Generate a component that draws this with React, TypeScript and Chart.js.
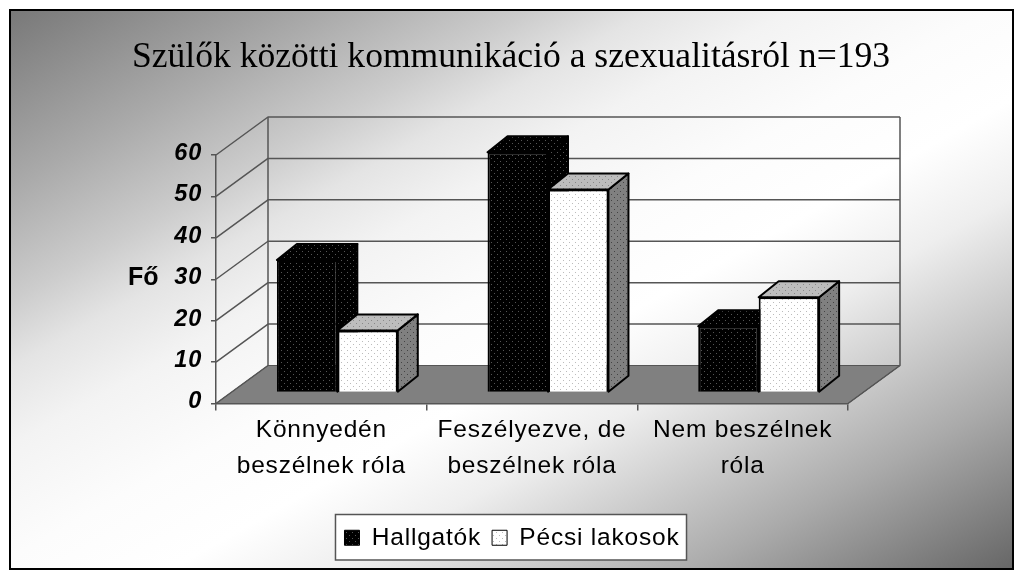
import { useEffect, useRef } from "react";
import { Chart, registerables, type Plugin } from "chart.js";

Chart.register(...registerables);

const TITLE = "Szülők közötti kommunikáció a szexualitásról n=193";
const AXIS_LABEL = "Fő";
const categories = [
  ["Könnyedén", "beszélnek róla"],
  ["Feszélyezve, de", "beszélnek róla"],
  ["Nem beszélnek", "róla"],
];
const hallgatok = [32, 58, 16];
const pecsi = [15, 49, 23];
const SERIES_NAMES = ["Hallgatók", "Pécsi lakosok"];

// 3d look of the old office chart
const WALL_DX = 52;
const WALL_DY = -38;
const BAR_SHIFT_X = 16;
const BAR_SHIFT_Y = -11;
const BAR_DX = 20;
const BAR_DY = -16;
const TRACKING = "0.8px";

function dots(bg: string, dot: string) {
  const c = document.createElement("canvas");
  c.width = 6;
  c.height = 6;
  const g = c.getContext("2d")!;
  g.fillStyle = bg;
  g.fillRect(0, 0, 6, 6);
  g.fillStyle = dot;
  g.fillRect(1, 1, 1, 1);
  g.fillRect(4, 4, 1, 1);
  return g.createPattern(c, "repeat")!;
}

function poly(ctx: CanvasRenderingContext2D, pts: number[][], fill: any, stroke?: string, lw = 1) {
  ctx.beginPath();
  pts.forEach((p, i) => (i ? ctx.lineTo(p[0], p[1]) : ctx.moveTo(p[0], p[1])));
  ctx.closePath();
  ctx.fillStyle = fill;
  ctx.fill();
  if (stroke) {
    ctx.strokeStyle = stroke;
    ctx.lineWidth = lw;
    ctx.lineJoin = "round";
    ctx.stroke();
  }
}

const backdrop: Plugin<"bar"> = {
  id: "backdrop",
  beforeLayout(chart) {
    (chart.ctx as any).letterSpacing = TRACKING;
  },
  beforeDraw(chart) {
    const ctx = chart.ctx as any;
    const x = 10, y = 10, w = 1003, h = 559;
    ctx.save();
    ctx.fillStyle = "#fff";
    ctx.fillRect(0, 0, chart.width, chart.height);
    const len = Math.hypot(w, h);
    const half = (w * h) / len;
    const dx = (h / len) * half;
    const dy = (w / len) * half;
    const cx = x + w / 2, cy = y + h / 2;
    const grad = ctx.createLinearGradient(cx - dx, cy - dy, cx + dx, cy + dy);
    grad.addColorStop(0, "#787878");
    grad.addColorStop(0.16, "#aaaaaa");
    grad.addColorStop(0.26, "#cccccc");
    grad.addColorStop(0.32, "#e4e4e4");
    grad.addColorStop(0.39, "#f3f3f3");
    grad.addColorStop(0.49, "#fcfcfc");
    grad.addColorStop(0.58, "#ffffff");
    grad.addColorStop(0.667, "#eeeeee");
    grad.addColorStop(0.844, "#aaaaaa");
    grad.addColorStop(1, "#666666");
    ctx.fillStyle = grad;
    ctx.fillRect(x, y, w, h);
    ctx.strokeStyle = "#000";
    ctx.lineWidth = 2;
    ctx.strokeRect(x, y, w, h);

    // title
    ctx.letterSpacing = "0px";
    ctx.fillStyle = "#000";
    ctx.font = "35.6px 'Liberation Serif'";
    ctx.textAlign = "center";
    ctx.textBaseline = "alphabetic";
    ctx.fillText(TITLE, 511, 67);

    // legend box
    const boxes = (chart.legend as any).legendHitBoxes as any[];
    const left = Math.min(...boxes.map((b) => b.left)) - 9;
    const right = Math.max(...boxes.map((b) => b.left + b.width)) + 7;
    const top = chart.legend!.top!;
    const bottom = chart.legend!.bottom!;
    ctx.fillStyle = "#fff";
    ctx.fillRect(left, top, right - left, bottom - top);
    ctx.strokeStyle = "#555";
    ctx.lineWidth = 1.5;
    ctx.strokeRect(left, top, right - left, bottom - top);
    ctx.restore();
    ctx.letterSpacing = TRACKING;
  },
};

const depth3d: Plugin<"bar"> = {
  id: "depth3d",
  beforeDatasetsDraw(chart) {
    const ctx = chart.ctx;
    const xs = chart.scales.x;
    const ys = chart.scales.y;
    const y0 = ys.getPixelForValue(0);
    const yTop = ys.getPixelForValue(60);
    ctx.save();
    // floor
    poly(ctx, [
      [xs.left, y0],
      [xs.left + WALL_DX, y0 + WALL_DY],
      [xs.right + WALL_DX, y0 + WALL_DY],
      [xs.right, y0],
    ], "#808080", "#555");
    // walls
    ctx.strokeStyle = "#555";
    ctx.lineWidth = 1.5;
    ys.ticks.forEach((t) => {
      const py = ys.getPixelForValue(t.value);
      ctx.beginPath();
      ctx.moveTo(xs.left, py);
      ctx.lineTo(xs.left + WALL_DX, py + WALL_DY);
      if (t.value > 0) ctx.lineTo(xs.right + WALL_DX, py + WALL_DY);
      ctx.stroke();
    });
    ctx.beginPath();
    ctx.moveTo(xs.left + WALL_DX, yTop + WALL_DY);
    ctx.lineTo(xs.left + WALL_DX, y0 + WALL_DY);
    ctx.moveTo(xs.right + WALL_DX, yTop + WALL_DY);
    ctx.lineTo(xs.right + WALL_DX, y0 + WALL_DY);
    ctx.lineTo(xs.right, y0);
    ctx.stroke();
    // axis label
    ctx.fillStyle = "#000";
    ctx.font = "bold 25px 'Liberation Sans'";
    ctx.textAlign = "left";
    ctx.textBaseline = "middle";
    (ctx as any).letterSpacing = "0px";
    ctx.fillText(AXIS_LABEL, 128, ys.getPixelForValue(30) - 1);
    ctx.restore();

    // everything of the bars sits a bit behind the front edge of the floor
    ctx.save();
    ctx.translate(BAR_SHIFT_X, BAR_SHIFT_Y);
    const looks = [
      { top: dots("#000", "#555"), side: dots("#000", "#555") },
      { top: dots("#bdbdbd", "#888"), side: dots("#808080", "#444") },
    ];
    [0, 1].forEach((d) => {
      chart.getDatasetMeta(d).data.forEach((bar: any) => {
        const l = bar.x - bar.width / 2;
        const r = bar.x + bar.width / 2;
        poly(ctx, [
          [r, bar.y],
          [r + BAR_DX, bar.y + BAR_DY],
          [r + BAR_DX, bar.base + BAR_DY],
          [r, bar.base],
        ], looks[d].side, "#000", 2);
        poly(ctx, [
          [l, bar.y],
          [l + BAR_DX, bar.y + BAR_DY],
          [r + BAR_DX, bar.y + BAR_DY],
          [r, bar.y],
        ], looks[d].top, "#000", 2);
      });
    });
  },
  afterDatasetsDraw(chart) {
    chart.ctx.restore();
  },
};

export default function App() {
  const canvasRef = useRef<HTMLCanvasElement>(null);

  useEffect(() => {
    if (!canvasRef.current) return;
    const chart = new Chart(canvasRef.current, {
      type: "bar",
      data: {
        labels: categories,
        datasets: [
          {
            label: SERIES_NAMES[0],
            data: hallgatok,
            backgroundColor: dots("#000", "#555"),
            borderColor: "#000",
            borderWidth: 2,
            clip: false,
          },
          {
            label: SERIES_NAMES[1],
            data: pecsi,
            backgroundColor: dots("#fff", "#bbb"),
            borderColor: "#000",
            borderWidth: 2,
            clip: false,
          },
        ] as any,
      },
      options: {
        responsive: false,
        animation: false,
        devicePixelRatio: 1,
        categoryPercentage: 0.574,
        barPercentage: 1,
        layout: { padding: { top: 155, left: 0, right: 0, bottom: 20 } },
        plugins: {
          tooltip: { enabled: false },
          title: { display: false },
          legend: {
            position: "bottom",
            labels: {
              color: "#000",
              font: { family: "'Liberation Sans'", size: 24.5 },
              boxWidth: 15,
              boxHeight: 15,
              padding: 11,
              generateLabels: (c) =>
                Chart.defaults.plugins.legend.labels.generateLabels(c).map((it) => ({
                  ...it,
                  lineWidth: 1,
                  strokeStyle: "#000",
                })),
            },
          },
        },
        scales: {
          x: {
            grid: { drawOnChartArea: false, color: "#555", tickLength: 7, lineWidth: 1.5 },
            border: { color: "#555", width: 1.5 },
            ticks: {
              color: "#000",
              font: { family: "'Liberation Sans'", size: 24.5, lineHeight: 1.47 },
              padding: 2,
              maxRotation: 0,
              autoSkip: false,
            },
            afterFit: (s) => {
              s.height = 111;
            },
          },
          y: {
            min: 0,
            max: 60,
            grid: { drawOnChartArea: false, color: "#555", tickLength: 5, lineWidth: 1.5 },
            border: { color: "#555", width: 1.5 },
            ticks: {
              stepSize: 10,
              color: "#000",
              font: { family: "'Liberation Sans'", size: 23.5, weight: "bold", style: "italic" },
              padding: 9,
              labelOffset: -1.5,
            },
            afterFit: (s) => {
              s.width = 216;
            },
          },
          // keeps room on the right for the wall, legend stays centred on the page
          spacer: {
            position: "right",
            display: true,
            grid: { display: false },
            border: { display: false },
            ticks: { display: false },
            afterFit: (s: any) => {
              s.width = 176;
            },
          },
        } as any,
      },
      plugins: [backdrop, depth3d],
    });
    return () => {
      chart.destroy();
    };
  }, []);

  return (
    <canvas
      ref={canvasRef}
      width={1024}
      height={580}
      style={{ position: "absolute", left: 0, top: 0, width: 1024, height: 580 }}
    />
  );
}
